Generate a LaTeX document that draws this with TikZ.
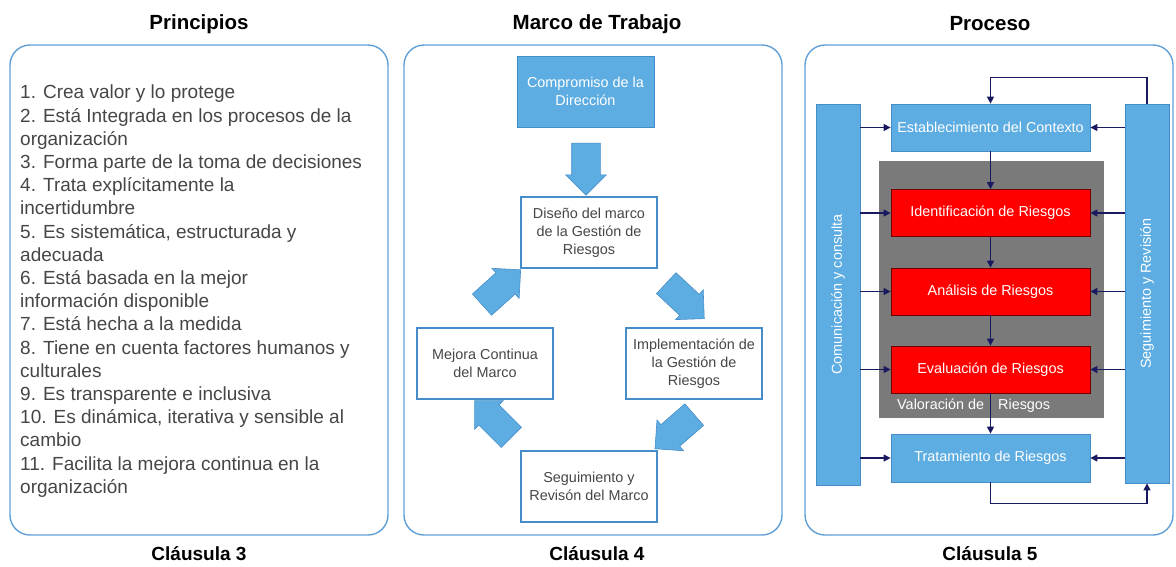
\documentclass[tikz,border=0pt]{standalone}
\usepackage{fontspec}
\setmainfont{Liberation Sans}
\usetikzlibrary{arrows.meta,shapes.arrows}

\definecolor{azulcaja}{RGB}{93,173,226}
\definecolor{bordecaja}{RGB}{70,140,200}
\definecolor{bordepanel}{RGB}{95,160,215}
\definecolor{rojocaja}{RGB}{255,0,0}
\definecolor{bordero}{RGB}{110,0,0}
\definecolor{grisvalor}{RGB}{122,122,122}
\definecolor{azulflecha}{RGB}{25,25,95}
\definecolor{gristexto}{RGB}{70,70,70}

\begin{document}
\begin{tikzpicture}[x=1pt,y=1pt,yscale=-1,
  panel/.style={draw=bordepanel, line width=1.4pt, rounded corners=20pt},
  titulo/.style={font=\fontsize{20.5}{24}\selectfont\bfseries, inner sep=0pt},
  clausula/.style={font=\fontsize{19}{22}\selectfont\bfseries, inner sep=0pt},
  cajablanca/.style={draw=bordecaja, line width=1.2pt, fill=white, text=gristexto, align=center,
    minimum width=136pt, minimum height=71pt, inner sep=2pt, font=\fontsize{14.4}{18}\selectfont},
  cajaazul/.style={draw=bordecaja, line width=0.8pt, fill=azulcaja, text=white, align=center,
    inner sep=2pt, font=\fontsize{14.4}{18}\selectfont},
  cajaroja/.style={draw=bordero, line width=0.8pt, fill=rojocaja, text=white, align=center,
    minimum width=199pt, minimum height=47pt, inner sep=2pt, font=\fontsize{14.4}{18}\selectfont},
  flechagorda/.style={single arrow, draw=bordecaja, line width=0.6pt, fill=azulcaja,
    inner xsep=0pt, inner ysep=14pt, minimum width=0pt, single arrow head extend=6pt, minimum height=52pt},
  flecha/.style={draw=azulflecha, line width=1.3pt, -{Triangle[length=7pt,width=7pt]}}]
\useasboundingbox (0,0) rectangle (1176,566);

%Shape: Panels
\draw [panel] (10,45) rectangle (388,535);
\draw [panel] (404,45) rectangle (782,535);
\draw [panel] (805,45) rectangle (1173,535);

% Text Node
\node (tprin) [titulo] at (199,24) {Principios};
\node (tmarco) [titulo] at (597,24) {Marco de Trabajo};
\node (tproc) [titulo] at (990,24) {Proceso};
\node (cl3) [clausula] at (199,554) {Cláusula 3};
\node (cl4) [clausula] at (597,554) {Cláusula 4};
\node (cl5) [clausula] at (990,554) {Cláusula 5};

% Text Node: lista de principios
\node (lista) [anchor=north west, inner sep=0pt, align=left, text=gristexto,
  font=\fontsize{19}{23.2}\selectfont] at (20,85) {1. Crea valor y lo protege\\
2. Está Integrada en los procesos de la\\
organización\\
3. Forma parte de la toma de decisiones\\
4. Trata explícitamente la\\
incertidumbre\\
5. Es sistemática, estructurada y\\
adecuada\\
6. Está basada en la mejor\\
información disponible\\
7. Está hecha a la medida\\
8. Tiene en cuenta factores humanos y\\
culturales\\
9. Es transparente e inclusiva\\
10. Es dinámica, iterativa y sensible al\\
cambio\\
11. Facilita la mejora continua en la\\
organización};

%Shape: Marco de trabajo
\node (compromiso) [cajaazul, minimum width=137pt, minimum height=71pt] at (585.5,91.5) {Compromiso de la\\Dirección};
\node (diseno) [cajablanca] at (589,232.5) {Diseño del marco\\de la Gestión de\\Riesgos};
\node (mejora) [cajablanca] at (485,363.5) {Mejora Continua\\del Marco};
\node (implem) [cajablanca] at (694,363.5) {Implementación de\\la Gestión de\\Riesgos};
\node (seguim) [cajablanca] at (589,486.5) {Seguimiento y\\Revisón del Marco};

\node (f1) [flechagorda, rotate=-90] at (586,162) {};
\node (f2) [flechagorda, rotate=42] at (496,292) {};
\node (f3) [flechagorda, rotate=-43] at (680,296) {};
\node (f4) [flechagorda, rotate=-139] at (680,427) {};
\node (f5) [flechagorda, rotate=135] at (498,424) {};

%Shape: Proceso
\node (valoracion) [fill=grisvalor, minimum width=225pt, minimum height=257pt, inner sep=0pt] at (991.5,289.5) {};
\node (tvalor) [anchor=west, text=white, inner sep=0pt, font=\fontsize{14.4}{18}\selectfont] at (897,406) {Valoración de\hspace{10pt} Riesgos};

\node (comun) [cajaazul, rotate=90, minimum width=381pt, minimum height=44pt] at (838,294.5) {Comunicación y consulta};
\node (revis) [cajaazul, rotate=90, minimum width=379pt, minimum height=44pt] at (1147,293.5) {Seguimiento y Revisión};

\node (contexto) [cajaazul, minimum width=199pt, minimum height=47pt] at (990.5,127.5) {Establecimiento del Contexto};
\node (ident) [cajaroja] at (990.5,213) {Identificación de Riesgos};
\node (anal) [cajaroja] at (990.5,291.5) {Análisis de Riesgos};
\node (evalu) [cajaroja] at (990.5,369.5) {Evaluación de Riesgos};
\node (trat) [cajaazul, minimum width=199pt, minimum height=48pt] at (990.5,458) {Tratamiento de Riesgos};

% Connectors
\draw [flecha] (contexto) -- (ident);
\draw [flecha] (ident) -- (anal);
\draw [flecha] (anal) -- (evalu);
\draw [flecha] (evalu) -- (trat);
\foreach \caja in {contexto,ident,anal,evalu,trat}{
  \draw [flecha] (comun.south |- \caja.west) -- (\caja.west);
  \draw [flecha] (revis.north |- \caja.east) -- (\caja.east);
}
\draw [flecha] (revis.east) -- ++(0,-26) -| (contexto.north);
\draw [flecha] (trat.south) -- ++(0,21) -| (revis.west);
\end{tikzpicture}
\end{document}
